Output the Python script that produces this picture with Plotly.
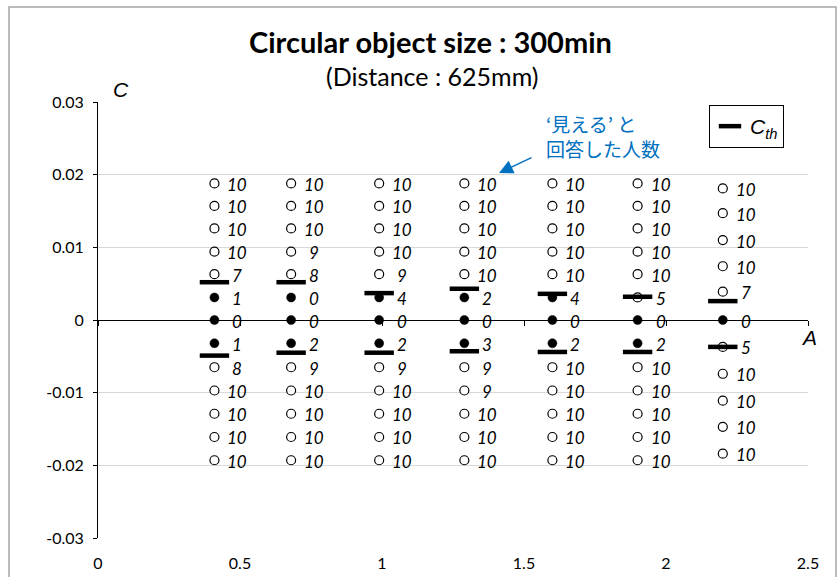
import plotly.graph_objects as go

# ---------------- data ----------------
A_values = [0.41, 0.68, 0.99, 1.29, 1.60, 1.90, 2.20]

# C levels (top to bottom) for each A column
C_levels_6 = [0.0188, 0.0157, 0.0126, 0.0094, 0.0063, 0.0031, 0.0,
              -0.0032, -0.0065, -0.0097, -0.0129, -0.0161, -0.0193]
C_levels_5 = [0.0181, 0.0147, 0.0110, 0.0074, 0.0039, 0.0,
              -0.0037, -0.0074, -0.0111, -0.0147, -0.0184]

counts = [
    [10, 10, 10, 10, 7, 1, 0, 1, 8, 10, 10, 10, 10],
    [10, 10, 10, 9, 8, 0, 0, 2, 9, 10, 10, 10, 10],
    [10, 10, 10, 10, 9, 4, 0, 2, 9, 10, 10, 10, 10],
    [10, 10, 10, 10, 10, 2, 0, 3, 9, 9, 10, 10, 10],
    [10, 10, 10, 10, 10, 4, 0, 2, 10, 10, 10, 10, 10],
    [10, 10, 10, 10, 10, 5, 0, 2, 10, 10, 10, 10, 10],
    [10, 10, 10, 10, 7, 0, 5, 10, 10, 10, 10],
]

Cth_upper = [0.0052, 0.0052, 0.0037, 0.0043, 0.0036, 0.0032, 0.0026]
Cth_lower = [-0.0049, -0.0045, -0.0045, -0.0043, -0.0044, -0.0044, -0.0037]

x_tick_vals = [0, 0.5, 1, 1.5, 2, 2.5]
x_tick_text = ["0", "0.5", "1", "1.5", "2", "2.5"]
y_tick_vals = [-0.03, -0.02, -0.01, 0, 0.01, 0.02, 0.03]
y_tick_text = ["-0.03", "-0.02", "-0.01", "0", "0.01", "0.02", "0.03"]

title_text = "Circular object size : 300min"
subtitle_text = "(Distance : 625mm)"
note_text = "‘見える’ と<br>回答した人数"

# ---------------- layout geometry ----------------
W, H = 840, 577
L, R, T, B = 98, 32, 102, 39


def px_x(px):
    return (px - L) / (W - L - R)


def px_y(py):
    return (H - B - py) / (H - T - B)


# flatten points
open_x, open_y, fill_x, fill_y = [], [], [], []
lab_x, lab_y, lab_t = [], [], []
for a, cnt in zip(A_values, counts):
    levels = C_levels_6 if len(cnt) == 13 else C_levels_5
    for c, n in zip(levels, cnt):
        if n >= 5:
            open_x.append(a); open_y.append(c)
        else:
            fill_x.append(a); fill_y.append(c)
        lab_x.append(a); lab_y.append(c); lab_t.append(str(n))

fig = go.Figure()

fig.add_trace(go.Scatter(
    x=open_x, y=open_y, mode="markers", showlegend=False,
    marker=dict(symbol="circle", size=9, color="white",
                line=dict(color="black", width=1.2)),
    hoverinfo="skip"))
fig.add_trace(go.Scatter(
    x=fill_x, y=fill_y, mode="markers", showlegend=False,
    marker=dict(symbol="circle", size=9, color="black",
                line=dict(color="black", width=0.5)),
    hoverinfo="skip"))

cth_x = A_values + A_values
cth_y = Cth_upper + Cth_lower
fig.add_trace(go.Scatter(
    x=cth_x, y=cth_y, mode="markers", name="<i>C<sub>th</sub></i>",
    showlegend=True,
    marker=dict(symbol="line-ew", size=21, color="black",
                line=dict(color="black", width=4.5)),
    hoverinfo="skip"))

annotations = []
for x, y, t in zip(lab_x, lab_y, lab_t):
    annotations.append(dict(
        x=x, y=y, xref="x", yref="y", text=t, showarrow=False,
        xshift=23, yshift=-1, xanchor="center", yanchor="middle",
        font=dict(family="Lato", size=17, color="black",
                  style="italic")))

# titles
annotations.append(dict(
    x=px_x(430), y=px_y(42), xref="paper", yref="paper",
    text="<b>" + title_text + "</b>", showarrow=False,
    xanchor="center", yanchor="middle",
    font=dict(family="Lato", size=29, color="black")))
annotations.append(dict(
    x=px_x(432), y=px_y(76), xref="paper", yref="paper",
    text=subtitle_text, showarrow=False,
    xanchor="center", yanchor="middle",
    font=dict(family="Lato", size=25, color="black")))

# axis titles
annotations.append(dict(
    x=px_x(121), y=px_y(90), xref="paper", yref="paper",
    text="<i>C</i>", showarrow=False, xanchor="center", yanchor="middle",
    font=dict(family="Liberation Sans", size=21, color="black")))
annotations.append(dict(
    x=px_x(809), y=px_y(337), xref="paper", yref="paper",
    text="<i>A</i>", showarrow=False, xanchor="center", yanchor="middle",
    font=dict(family="Liberation Sans", size=21, color="black")))

# blue note and arrow
annotations.append(dict(
    x=px_x(603), y=px_y(136), xref="paper", yref="paper",
    text=note_text, showarrow=False, xanchor="center", yanchor="middle",
    align="left",
    font=dict(family="Noto Sans CJK JP", size=19, color="#0070C0")))
annotations.append(dict(
    x=px_x(499), y=px_y(173), xref="paper", yref="paper",
    ax=34, ay=-16, text="", showarrow=True, arrowhead=2,
    arrowsize=2.0, arrowwidth=1.4, arrowcolor="#0070C0", standoff=0))

fig.update_layout(
    width=W, height=H,
    margin=dict(l=L, r=R, t=T, b=B, autoexpand=False),
    paper_bgcolor="white", plot_bgcolor="white",
    font=dict(family="Lato", size=16, color="black"),
    annotations=annotations,
    showlegend=True,
    legend=dict(x=px_x(709), y=px_y(105), xanchor="left", yanchor="top",
                bordercolor="black", borderwidth=1, bgcolor="white",
                font=dict(family="Liberation Sans", size=21, color="black"),
                itemsizing="trace", tracegroupgap=0),
    xaxis=dict(range=[0, 2.5], tickvals=x_tick_vals, ticktext=x_tick_text,
               showgrid=False, zeroline=False, showline=False,
               ticks="", ticklabelstandoff=14, automargin=False,
               tickfont=dict(family="Lato", size=16)),
    xaxis2=dict(range=[0, 2.5], overlaying="x", anchor="free", position=0.5,
                matches="x", tickvals=x_tick_vals, showticklabels=False,
                showgrid=False, zeroline=False, showline=True,
                linecolor="black", linewidth=1, ticks="outside", ticklen=5,
                tickcolor="black", side="bottom", automargin=False),
    yaxis=dict(range=[-0.03, 0.03], tickvals=y_tick_vals,
               ticktext=y_tick_text, showgrid=True, gridcolor="#d9d9d9",
               gridwidth=1, zeroline=False, showline=True,
               linecolor="black", linewidth=1, ticks="outside", ticklen=4,
               tickcolor="black", ticklabelstandoff=6, automargin=False,
               tickfont=dict(family="Lato", size=16)),
    shapes=[dict(type="rect", xref="paper", yref="paper",
                 x0=px_x(9), x1=px_x(836), y0=px_y(600), y1=px_y(7),
                 line=dict(color="#a6a6a6", width=1.5), layer="below")],
)

# dummy trace to activate xaxis2
fig.add_trace(go.Scatter(x=[None], y=[None], xaxis="x2", showlegend=False,
                         hoverinfo="skip"))

fig.write_html("out.html")
